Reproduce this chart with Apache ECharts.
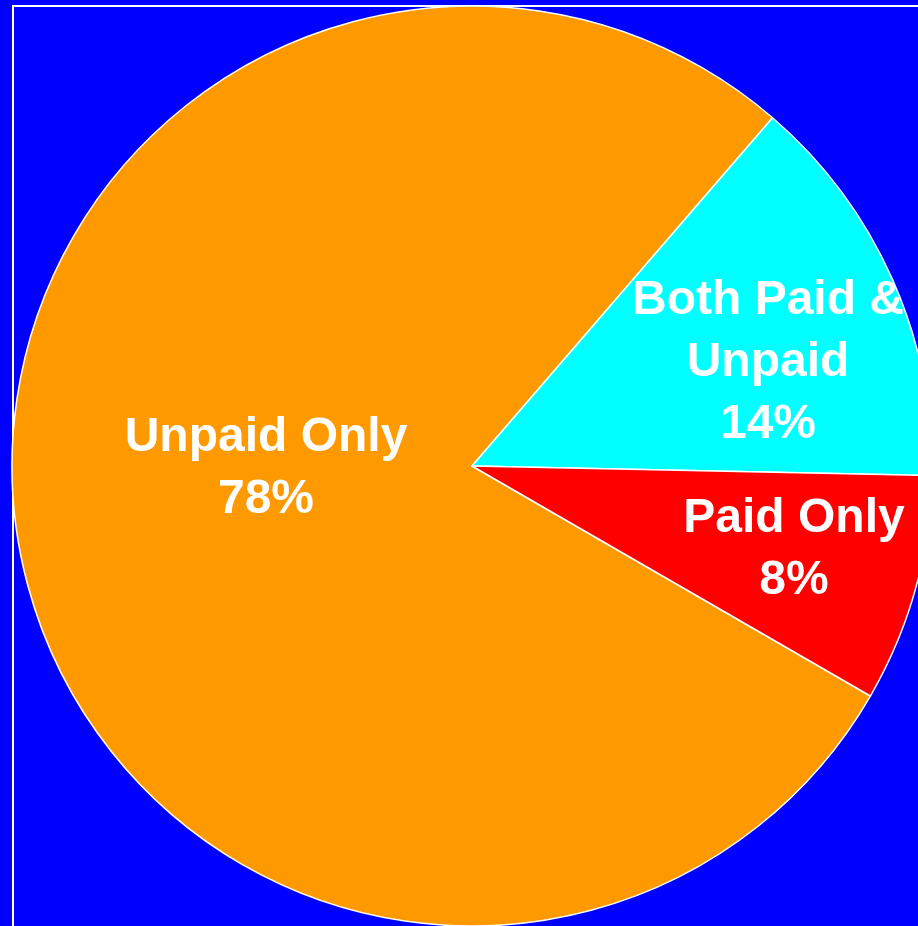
<!DOCTYPE html>
<html>
<head>
<meta charset="utf-8">
<script src="https://cdn.jsdelivr.net/npm/echarts@6/dist/echarts.min.js"></script>
<style>html,body{margin:0;padding:0;background:#0000FF;}#chart{width:918px;height:926px;}</style>
</head>
<body>
<div id="chart"></div>
<script>
const categories = ['Unpaid Only', 'Both Paid &\nUnpaid', 'Paid Only'];
const values = [78, 14, 8];
const colors = ['#FF9900', '#00FFFF', '#FF0000'];
const labelPos = [[266, 469], [768, 363], [794, 550]];

const chart = echarts.init(document.getElementById('chart'));
chart.setOption({
  backgroundColor: '#0000FF',
  animation: false,
  graphic: [{
    type: 'rect', z: 0,
    shape: { x: 13, y: 6, width: 1000, height: 1000 },
    style: { fill: 'none', stroke: '#FFFFFF', lineWidth: 2 }
  }],
  series: [{
    type: 'pie',
    z: 2,
    center: [472, 466],
    radius: 460,
    startAngle: 330,
    clockwise: true,
    avoidLabelOverlap: false,
    itemStyle: { borderColor: '#FFFFFF', borderWidth: 1.5 },
    label: {
      show: true,
      position: 'inside',
      formatter: '{b}\n{d}%',
      color: '#FFFFFF',
      fontFamily: 'Liberation Sans, Arial, sans-serif',
      fontWeight: 'bold',
      fontSize: 48,
      lineHeight: 62,
      align: 'center'
    },
    labelLine: { show: false },
    labelLayout: function (p) {
      const pos = labelPos[p.dataIndex];
      return { x: pos[0], y: pos[1], align: 'center', verticalAlign: 'middle' };
    },
    emphasis: { disabled: true },
    data: categories.map((c, i) => ({ name: c, value: values[i], itemStyle: { color: colors[i] } }))
  }]
});
</script>
</body>
</html>
